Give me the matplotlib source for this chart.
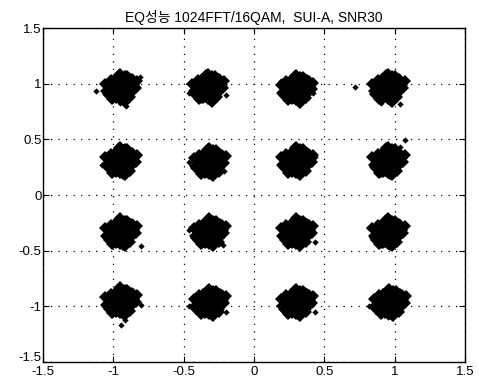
import matplotlib
matplotlib.use("Agg")
import matplotlib.pyplot as plt
import matplotlib.transforms as mtransforms

plt.rcParams['font.family'] = ['Liberation Sans', 'Noto Sans CJK KR', 'DejaVu Sans']

title = "EQ성능 1024FFT/16QAM,  SUI-A, SNR30"
ticks = [-1.5, -1, -0.5, 0, 0.5, 1, 1.5]
tick_labels = ["-1.5", "-1", "-0.5", "0", "0.5", "1", "1.5"]

# cluster centres (x, y)
centers_x = [-0.95, -0.33, 0.30, 0.95,
             -0.95, -0.32, 0.30, 0.95,
             -0.95, -0.32, 0.30, 0.95,
             -0.95, -0.32, 0.30, 0.96]
centers_y = [0.97, 0.97, 0.96, 0.97,
             0.31, 0.30, 0.31, 0.31,
             -0.33, -0.33, -0.33, -0.33,
             -0.95, -0.96, -0.96, -0.96]

# shape of the dense core of each cloud (offsets, data units)
core_dx = [0, .03, -.03, .06, -.06, .01, -.01, .05, -.05, .08, -.08, .02, -.02, .09, -.09,
           .04, -.04, .07, -.07, .10, -.10, 0, .03, -.03, .06, -.06, .01, -.02, .11, -.11,
           .05, -.05, .08, -.08, .02, -.04, .04, -.07, .07, 0, -.09, .09, .03, -.06, .12, -.01]
core_dy = [0, .02, -.02, -.01, .01, .06, -.06, .05, -.05, .03, -.03, .09, -.09, -.02, .02,
           -.07, .07, -.06, .06, .02, -.04, -.11, .10, -.10, .08, -.08, -.04, .04, -.01, .03,
           .10, -.10, .07, -.07, -.12, 0, -.03, .03, -.09, .12, -.06, .06, -.13, -.11, .05, .11]

# scattered outliers around the clouds
out_x = [-1.12, -0.91, -0.81, -0.95, -0.46, -0.20, 0.19, 0.42, 0.72, 0.90, 1.04,
         -1.08, -0.82, -0.46, -0.21, 0.43, 1.07, 1.04,
         -0.80, -0.46, -0.22, 0.43, 0.18, 0.82, 1.07,
         -0.80, -0.92, -0.945, -0.46, -0.20, 0.18, 0.43, 0.82, 1.07, 0.95]
out_y = [0.93, 0.80, 1.06, 0.83, 0.92, 0.90, 1.02, 0.92, 0.97, 0.83, 0.82,
         0.27, 0.36, 0.30, 0.22, 0.34, 0.49, 0.43,
         -0.455, -0.31, -0.45, -0.42, -0.30, -0.30, -0.27,
         -0.99, -1.12, -1.17, -1.00, -1.05, -0.93, -1.05, -1.00, -0.90, -1.10]

fig = plt.figure(figsize=(4.79, 3.84), dpi=100)
ax = fig.add_axes([0.0898, 0.0573, 0.8810, 0.8697])

px, py = [], []
for cx, cy in zip(centers_x, centers_y):
    for dx, dy in zip(core_dx, core_dy):
        px.append(cx + dx)
        py.append(cy + dy)
ax.plot(px, py, linestyle='none', marker='D', markersize=6.0, color='black',
        markeredgewidth=0, zorder=3)
ax.plot(out_x, out_y, linestyle='none', marker='D', markersize=3.2, color='black',
        markeredgewidth=0, zorder=3)

ax.set_xlim(-1.5, 1.5)
ax.set_ylim(-1.5, 1.5)
ax.set_xticks(ticks)
ax.set_yticks(ticks)
ax.set_xticklabels(tick_labels)
ax.set_yticklabels(tick_labels)
ax.tick_params(direction='in', length=4, width=0.8, labelsize=9.5, pad=1,
               top=True, right=True, colors='black')
ax.tick_params(axis='x', pad=3)
ax.grid(True, color='black', linestyle=(0, (1, 5)), linewidth=0.9)
for s in ax.spines.values():
    s.set_linewidth(1.0)
ax.set_title(title, fontsize=10, pad=4)

# lift the lowest y label slightly so it clears the first x label
lbl = ax.get_yticklabels()[0]
lbl.set_transform(lbl.get_transform() +
                  mtransforms.ScaledTranslation(0, 4 / 72, fig.dpi_scale_trans))

fig.savefig("out.png", dpi=100)
